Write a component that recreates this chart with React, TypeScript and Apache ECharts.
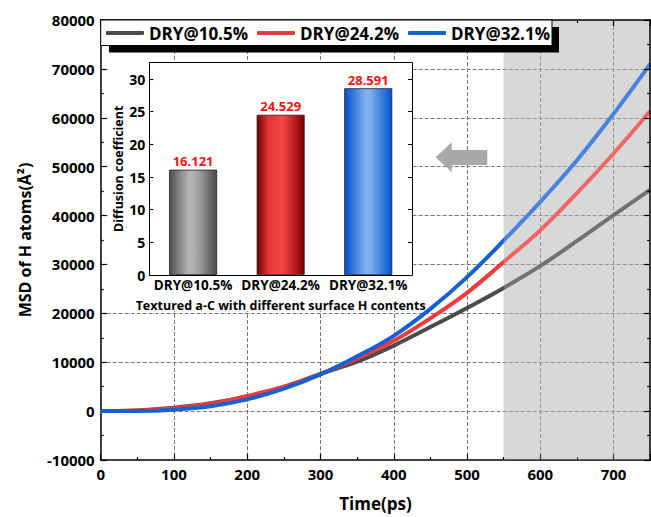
import React, { useEffect, useRef } from "react";
import * as echarts from "echarts";

// ---- Data ----
const times = [0, 50, 100, 150, 200, 250, 300, 350, 400, 450, 500, 550, 600, 650, 700, 750];
const msdDry105 = [0, 150, 700, 1600, 3000, 4900, 7600, 10100, 13400, 17200, 21100, 25200, 29700, 34800, 40100, 45300];
const msdDry242 = [0, 100, 600, 1500, 3100, 5000, 7600, 10800, 14400, 19000, 24200, 30500, 37000, 44600, 52700, 61400];
const msdDry321 = [0, 30, 300, 1000, 2400, 4600, 7500, 11200, 15400, 20900, 27400, 34900, 42800, 51300, 60800, 71000];
const seriesNames = ["DRY@10.5%", "DRY@24.2%", "DRY@32.1%"];
const shadeStart = 550;
const shadeEnd = 750;

const barCategories = ["DRY@10.5%", "DRY@24.2%", "DRY@32.1%"];
const diffusionValues = [16.121, 24.529, 28.591];

const FONT = "Open Sans";
const lineColors = ["#4b4b4b", "#ee3a3a", "#1660d4"];

export default function App() {
  const ref = useRef<HTMLDivElement>(null);
  useEffect(() => {
    if (!ref.current) return;
    const chart = echarts.init(ref.current, null, { renderer: "svg" });
    const all = [msdDry105, msdDry242, msdDry321];

    const lineSeries: any[] = all.map((vals, i) => ({
      name: seriesNames[i],
      type: "line",
      xAxisIndex: 0,
      yAxisIndex: 0,
      data: times.map((t, k) => [t, vals[k]]),
      smooth: 0.4,
      symbol: "none",
      z: 3,
      color: lineColors[i],
      lineStyle: { width: 4, color: lineColors[i] },
    }));

    const barGradients = [
      [
        [0, "#4e4e4e"],
        [0.42, "#b8b8b8"],
        [0.6, "#a4a4a4"],
        [1, "#4a4a4a"],
      ],
      [
        [0, "#760000"],
        [0.25, "#e63636"],
        [0.55, "#f04848"],
        [0.8, "#bb1c1c"],
        [1, "#760000"],
      ],
      [
        [0, "#0050c8"],
        [0.45, "#82b2f0"],
        [0.55, "#7eaeee"],
        [1, "#0052d0"],
      ],
    ].map(
      (st) =>
        new echarts.graphic.LinearGradient(
          0,
          0,
          1,
          0,
          st.map((s) => ({ offset: s[0] as number, color: s[1] as string }))
        )
    );

    const blackLine = () => ({ onZero: false, lineStyle: { color: "#000", width: 1.5 } });
    const tickStyle = () => ({ color: "#000", width: 1.2 });
    const plain = (v: number) => String(v);

    const shadeSeries = (z: number, color: string) => ({
      type: "line",
      xAxisIndex: 0,
      yAxisIndex: 0,
      data: [
        [shadeStart, 0],
        [shadeEnd, 0],
      ],
      symbol: "none",
      silent: true,
      z,
      lineStyle: { opacity: 0 },
      markArea: {
        silent: true,
        z,
        itemStyle: { color },
        data: [[{ xAxis: shadeStart }, { xAxis: shadeEnd }]],
      },
    });

    const option: any = {
      animation: false,
      textStyle: { fontFamily: FONT },
      grid: [
        { left: 100.7, right: 0.8, top: 20, bottom: 53.8 },
        { left: 149.3, top: 62.7, width: 262.7, height: 212.3 },
      ],
      legend: {
        data: seriesNames,
        left: 101,
        top: 23,
        padding: [0, 5],
        itemGap: 9,
        itemWidth: 38,
        itemHeight: 4,
        icon: "roundRect",
        selectedMode: false,
        z: 6,
        textStyle: { color: "#000", fontWeight: "bold", fontSize: 17, fontFamily: FONT, lineHeight: 20 },
      },
      xAxis: [
        {
          gridIndex: 0,
          type: "value",
          position: "bottom",
          min: 0,
          max: 750,
          interval: 100,
          z: 2,
          axisLine: blackLine(),
          axisTick: { inside: true, length: 6, lineStyle: tickStyle() },
          minorTick: { show: true, splitNumber: 2, length: 3, lineStyle: tickStyle() },
          axisLabel: { color: "#000", fontWeight: "bold", fontSize: 15, margin: 6, showMaxLabel: false, fontFamily: FONT, formatter: plain },
          splitLine: { show: true, showMinLine: false, showMaxLine: false, lineStyle: { color: "#777777", width: 1, type: "dashed" } },
          name: "Time(ps)",
          nameLocation: "middle",
          nameGap: 35,
          nameTextStyle: { color: "#000", fontWeight: "bold", fontSize: 17, fontFamily: FONT },
        },
        {
          gridIndex: 0,
          type: "value",
          position: "top",
          min: 0,
          max: 750,
          interval: 100,
          z: 4,
          axisLine: blackLine(),
          axisTick: { inside: true, length: 6, lineStyle: tickStyle() },
          minorTick: { show: true, splitNumber: 2, length: 3, lineStyle: tickStyle() },
          axisLabel: { show: false },
          splitLine: { show: false },
        },
        {
          gridIndex: 1,
          type: "category",
          position: "bottom",
          data: barCategories,
          z: 8,
          axisLine: { onZero: false, lineStyle: { color: "#000", width: 1 } },
          axisTick: { show: false },
          axisLabel: { color: "#000", fontWeight: "bold", fontSize: 13.5, margin: 3, interval: 0, fontFamily: FONT },
          name: "Textured a-C with different surface H contents",
          nameLocation: "middle",
          nameGap: 24,
          nameTextStyle: { color: "#000", fontWeight: "bold", fontSize: 12.5, fontFamily: FONT },
        },
        {
          gridIndex: 1,
          type: "category",
          position: "top",
          data: barCategories,
          z: 8,
          axisLine: { onZero: false, lineStyle: { color: "#000", width: 1 } },
          axisTick: { show: false },
          axisLabel: { show: false },
        },
      ],
      yAxis: [
        {
          gridIndex: 0,
          type: "value",
          position: "left",
          min: -10000,
          max: 80000,
          interval: 10000,
          z: 2,
          axisLine: blackLine(),
          axisTick: { inside: true, length: 6, lineStyle: tickStyle() },
          minorTick: { show: true, splitNumber: 2, length: 3, lineStyle: tickStyle() },
          axisLabel: { color: "#000", fontWeight: "bold", fontSize: 15, margin: 6, fontFamily: FONT, formatter: plain },
          splitLine: { show: true, showMinLine: false, showMaxLine: false, lineStyle: { color: "#777777", width: 1, type: "dashed" } },
          name: "MSD of H atoms(Å²)",
          nameLocation: "middle",
          nameGap: 68,
          nameTextStyle: { color: "#000", fontWeight: "bold", fontSize: 16, fontFamily: FONT },
        },
        {
          gridIndex: 0,
          type: "value",
          position: "right",
          min: -10000,
          max: 80000,
          interval: 10000,
          z: 4,
          axisLine: blackLine(),
          axisTick: { inside: true, length: 6, lineStyle: tickStyle() },
          minorTick: { show: true, splitNumber: 2, length: 3, lineStyle: tickStyle() },
          axisLabel: { show: false },
          splitLine: { show: false },
        },
        {
          gridIndex: 1,
          type: "value",
          position: "left",
          min: 0,
          max: 32.5,
          interval: 5,
          z: 8,
          axisLine: { show: true, onZero: false, lineStyle: { color: "#000", width: 1 } },
          axisTick: { show: true, inside: true, length: 4, lineStyle: { color: "#000", width: 1 } },
          axisLabel: { color: "#000", fontWeight: "bold", fontSize: 14, margin: 4, showMaxLabel: false, fontFamily: FONT },
          splitLine: { show: false },
          name: "Diffusion coefficient",
          nameLocation: "middle",
          nameGap: 13,
          nameTextStyle: { color: "#000", fontWeight: "bold", fontSize: 12.5, fontFamily: FONT },
        },
        {
          gridIndex: 1,
          type: "value",
          position: "right",
          min: 0,
          max: 32.5,
          interval: 5,
          z: 8,
          axisLine: { show: true, onZero: false, lineStyle: { color: "#000", width: 1 } },
          axisTick: { show: true, inside: true, length: 4, lineStyle: { color: "#000", width: 1 } },
          axisLabel: { show: false },
          splitLine: { show: false },
        },
      ],
      series: [
        shadeSeries(1, "#cecece"),
        ...lineSeries,
        shadeSeries(3.5, "rgba(255,255,255,0.22)"),
        {
          type: "bar",
          xAxisIndex: 2,
          yAxisIndex: 2,
          z: 8,
          barWidth: 48,
          data: diffusionValues.map((v, i) => ({
            value: v,
            itemStyle: { color: barGradients[i], borderColor: "#222", borderWidth: 0.8 },
          })),
          label: {
            show: true,
            position: "top",
            distance: 2,
            color: "#ff1010",
            fontWeight: "bold",
            fontSize: 13,
            fontFamily: FONT,
          },
        },
      ],
      graphic: {
        elements: [
          {
            type: "rect",
            z: 4,
            silent: true,
            shape: { x: 107.5, y: 62, width: 305.5, height: 249 },
            style: { fill: "#ffffff" },
          },
          {
            type: "rect",
            z: 5,
            silent: true,
            shape: { x: 109, y: 27, width: 450, height: 25.5 },
            style: { fill: "#000000" },
          },
          {
            type: "rect",
            z: 5,
            silent: true,
            shape: { x: 100.7, y: 20, width: 451.3, height: 25.5 },
            style: { fill: "#ffffff", stroke: "#000000", lineWidth: 1 },
          },
          {
            type: "polygon",
            z: 5,
            silent: true,
            shape: {
              points: [
                [435.7, 157.3],
                [451.7, 142.3],
                [451.7, 150],
                [487.3, 150],
                [487.3, 165],
                [451.7, 165],
                [451.7, 172.3],
              ],
            },
            style: { fill: "#a9a9a9" },
          },
        ],
      },
    };
    chart.setOption(option);
    return () => chart.dispose();
  }, []);
  return (
    <div
      ref={ref}
      style={{ position: "fixed", left: 0, top: 0, width: 651, height: 517, background: "#fff" }}
    />
  );
}
